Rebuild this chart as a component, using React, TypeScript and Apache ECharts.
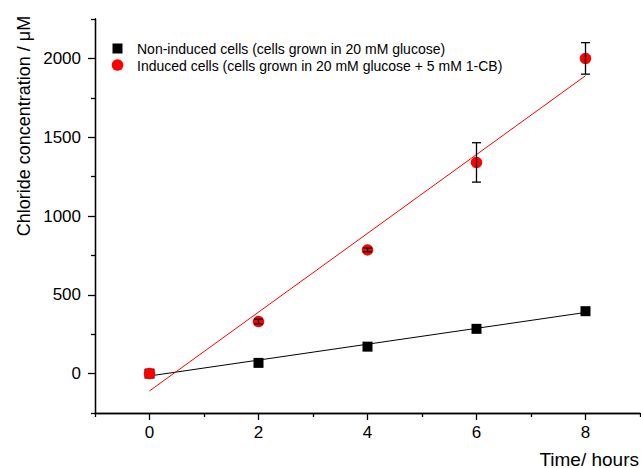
import React, { useEffect, useRef } from "react";
import * as echarts from "echarts";

const times = [0, 2, 4, 6, 8];
const nonInduced = [0, 68, 171, 284, 396];
const induced = [0, 330, 785, 1340, 2000];
const inducedErr = [0, 15, 12, 125, 100];
const nonInducedFitX = [0, 8];
const nonInducedFitY = [-15, 388];
const inducedFitX = [0, 8];
const inducedFitY = [-110, 1890];
const xMajor = [0, 2, 4, 6, 8];
const xMinor = [-1, 1, 3, 5, 7, 9];
const yMajor = [0, 500, 1000, 1500, 2000];
const yMinor = [-250, 250, 750, 1250, 1750, 2250];
const legendNames = [
  "Non-induced cells (cells grown in 20 mM glucose)",
  "Induced cells (cells grown in 20 mM glucose + 5 mM 1-CB)",
];
const xTitle = "Time/ hours";
const yTitle = "Chloride concentration / \u03bcM";

const FONT = "Arial, 'Liberation Sans', sans-serif";

export default function App() {
  const ref = useRef<HTMLDivElement>(null);
  useEffect(() => {
    if (!ref.current) return;
    const chart = echarts.init(ref.current, null, { renderer: "svg" });
    const axisLine = { show: true, onZero: false, lineStyle: { color: "#000", width: 1.3 } };
    const tickStyle = { color: "#000", width: 1.3 };
    const xBase = { type: "value", min: -1, max: 9, position: "bottom", splitLine: { show: false } };
    const yBase = { type: "value", min: -250, max: 2250, position: "left", splitLine: { show: false } };
    const fmt = (v: number) => String(v);
    const option: any = {
      animation: false,
      backgroundColor: "#fff",
      grid: { left: 95, right: 1, top: 19, bottom: 55, containLabel: false, outerBoundsMode: "none" },
      xAxis: [
        {
          ...xBase,
          axisLine,
          axisTick: { show: true, customValues: xMajor, length: 7, lineStyle: tickStyle },
          axisLabel: { show: true, customValues: xMajor, formatter: fmt, fontSize: 17, color: "#000", fontFamily: FONT, margin: 11 },
        },
        {
          ...xBase,
          axisLine,
          axisTick: { show: true, customValues: xMinor, length: 4, lineStyle: tickStyle },
          axisLabel: { show: false },
        },
      ],
      yAxis: [
        {
          ...yBase,
          axisLine,
          axisTick: { show: true, customValues: yMajor, length: 7, lineStyle: tickStyle },
          axisLabel: { show: true, customValues: yMajor, formatter: fmt, fontSize: 17, color: "#000", fontFamily: FONT, margin: 14 },
        },
        {
          ...yBase,
          axisLine,
          axisTick: { show: true, customValues: yMinor, length: 4, lineStyle: tickStyle },
          axisLabel: { show: false },
        },
      ],
      series: [
        {
          type: "line",
          name: "nonFit",
          data: nonInducedFitX.map((x, i) => [x, nonInducedFitY[i]]),
          symbol: "none",
          lineStyle: { color: "#000", width: 1 },
          z: 1,
        },
        {
          type: "line",
          name: "indFit",
          data: inducedFitX.map((x, i) => [x, inducedFitY[i]]),
          symbol: "none",
          lineStyle: { color: "#ff0000", width: 1 },
          z: 1,
        },
        {
          type: "scatter",
          name: legendNames[0],
          data: times.map((t, i) => [t, nonInduced[i]]),
          symbol: "rect",
          symbolSize: 10,
          itemStyle: { color: "#000", opacity: 1 },
          z: 2,
        },
        {
          type: "scatter",
          name: legendNames[1],
          data: times.map((t, i) => [t, induced[i]]),
          symbol: "circle",
          symbolSize: 11.5,
          itemStyle: { color: "#ff0000", opacity: 1 },
          z: 3,
        },
        {
          type: "custom",
          name: "err",
          data: times.map((t, i) => [t, induced[i] - inducedErr[i], induced[i] + inducedErr[i], inducedErr[i]]),
          z: 4,
          renderItem: (params: any, api: any) => {
            if (api.value(3) <= 0) return null;
            const x = api.value(0);
            const lo = api.coord([x, api.value(1)]);
            const hi = api.coord([x, api.value(2)]);
            const w = 4.5;
            const st = { stroke: "#000", lineWidth: 1.3 };
            return {
              type: "group",
              children: [
                { type: "line", shape: { x1: lo[0], y1: lo[1], x2: hi[0], y2: hi[1] }, style: st },
                { type: "line", shape: { x1: lo[0] - w, y1: lo[1], x2: lo[0] + w, y2: lo[1] }, style: st },
                { type: "line", shape: { x1: hi[0] - w, y1: hi[1], x2: hi[0] + w, y2: hi[1] }, style: st },
              ],
            };
          },
        },
      ],
      graphic: [
        { type: "rect", shape: { x: 112.5, y: 43.5, width: 10, height: 10 }, style: { fill: "#000" } },
        { type: "circle", shape: { cx: 117.5, cy: 65, r: 5.8 }, style: { fill: "#ff0000" } },
        {
          type: "text",
          x: 137,
          y: 48.5,
          style: { text: legendNames[0], fontSize: 14, fontFamily: FONT, fill: "#000", verticalAlign: "middle", align: "left" },
        },
        {
          type: "text",
          x: 137,
          y: 65.5,
          style: { text: legendNames[1], fontSize: 14, fontFamily: FONT, fill: "#000", verticalAlign: "middle", align: "left" },
        },
        {
          type: "text",
          x: 24,
          y: 126,
          rotation: Math.PI / 2,
          style: { text: yTitle, fontSize: 18, fontFamily: FONT, fill: "#000", verticalAlign: "middle", align: "center" },
        },
        {
          type: "text",
          x: 639,
          y: 459,
          style: { text: xTitle, fontSize: 19, fontFamily: FONT, fill: "#000", verticalAlign: "middle", align: "right" },
        },
      ],
    };
    chart.setOption(option);
    return () => chart.dispose();
  }, []);
  return (
    <div
      ref={ref}
      style={{ position: "fixed", left: 0, top: 0, width: 641, height: 468, background: "#fff" }}
    />
  );
}
